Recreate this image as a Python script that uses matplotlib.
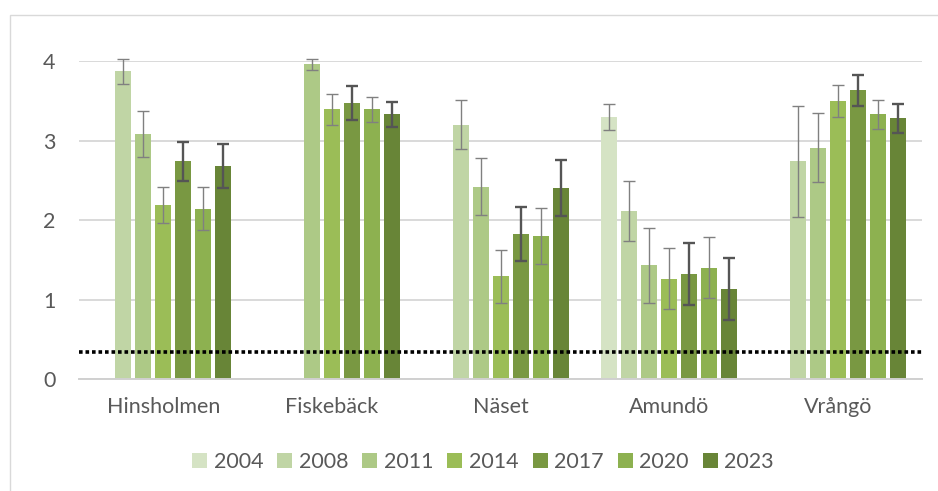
import numpy as np
import matplotlib
matplotlib.use("Agg")
import matplotlib.pyplot as plt
from matplotlib.patches import Rectangle, Patch

plt.rcParams['font.family'] = ['Lato', 'DejaVu Sans']

sites = ["Hinsholmen", "Fiskebäck", "Näset", "Amundö", "Vrångö"]
years = ["2004", "2008", "2011", "2014", "2017", "2020", "2023"]
nan = np.nan

# mean values per year, one entry per site (nan = not sampled)
v2004 = [nan, nan, nan, 3.30, nan]
v2008 = [3.87, nan, 3.20, 2.11, 2.74]
v2011 = [3.08, 3.96, 2.42, 1.43, 2.91]
v2014 = [2.19, 3.39, 1.29, 1.26, 3.50]
v2017 = [2.74, 3.47, 1.82, 1.32, 3.63]
v2020 = [2.14, 3.39, 1.80, 1.40, 3.33]
v2023 = [2.68, 3.33, 2.40, 1.13, 3.28]

# error bar half-widths
e2004 = [nan, nan, nan, 0.165, nan]
e2008 = [0.16, nan, 0.31, 0.375, 0.70]
e2011 = [0.29, 0.07, 0.355, 0.475, 0.43]
e2014 = [0.23, 0.20, 0.335, 0.385, 0.20]
e2017 = [0.245, 0.21, 0.34, 0.395, 0.20]
e2020 = [0.27, 0.16, 0.35, 0.38, 0.18]
e2023 = [0.28, 0.16, 0.355, 0.39, 0.185]

threshold = 0.34

values = [v2004, v2008, v2011, v2014, v2017, v2020, v2023]
errors = [e2004, e2008, e2011, e2014, e2017, e2020, e2023]
colors = ["#d5e3c4", "#c0d5a5", "#adc986", "#9bbd57", "#799842", "#8db150", "#688537"]
err_colors = ["#808080", "#808080", "#808080", "#808080", "#555555", "#808080", "#555555"]
err_lw = [1.0, 1.0, 1.0, 1.0, 1.7, 1.0, 1.7]

fig = plt.figure(figsize=(9.38, 4.91), dpi=100)
fig.patches.append(Rectangle((10 / 938, -0.05), 1.1, 1 - 15 / 491 + 0.05,
                             transform=fig.transFigure, fill=False,
                             edgecolor="#d9d9d9", linewidth=1.0, zorder=0))

ax = fig.add_axes([79 / 938, 1 - 379 / 491, (922 - 79) / 938, (379 - 61) / 491])

x = np.arange(len(sites))
slot = 20 / 168.6
width = 16 / 168.6

for i, (vals, errs) in enumerate(zip(values, errors)):
    vals = np.array(vals, dtype=float)
    errs = np.array(errs, dtype=float)
    pos = x + (i - 3) * slot
    ok = ~np.isnan(vals)
    ax.bar(pos[ok], vals[ok], width=width, color=colors[i], zorder=2, label=years[i])
    ax.errorbar(pos[ok], vals[ok], yerr=errs[ok], fmt="none", ecolor=err_colors[i],
                elinewidth=err_lw[i], capsize=4.3, capthick=err_lw[i], zorder=3,
                clip_on=False)

ax.axhline(threshold, color="black", linewidth=2.6, linestyle=(0, (1, 0.8)), zorder=4)

ax.set_xlim(-0.5, len(sites) - 0.5)
ax.set_ylim(0, 4)
ax.set_yticks([0, 1, 2, 3, 4])
ax.set_xticks(x)
ax.set_xticklabels(sites)
ax.yaxis.grid(True, color="#d9d9d9", linewidth=1.4, zorder=0)
ax.set_axisbelow(True)
for s in ["left", "right", "top"]:
    ax.spines[s].set_visible(False)
ax.spines["bottom"].set_color("#d0d0d0")
ax.spines["bottom"].set_linewidth(1.4)
ax.tick_params(axis="both", length=0, labelsize=15.5, colors="#595959")
ax.tick_params(axis="y", pad=17)
ax.tick_params(axis="x", pad=13)

handles = [Patch(facecolor=c, edgecolor="none") for c in colors]
fig.legend(handles, years, loc="center", bbox_to_anchor=(483 / 938, 1 - 462 / 491),
           ncol=7, frameon=False, fontsize=15.5, labelcolor="#595959",
           handlelength=0.7, handleheight=0.7, handletextpad=0.3, columnspacing=0.65)

fig.savefig("out.png", dpi=100)
